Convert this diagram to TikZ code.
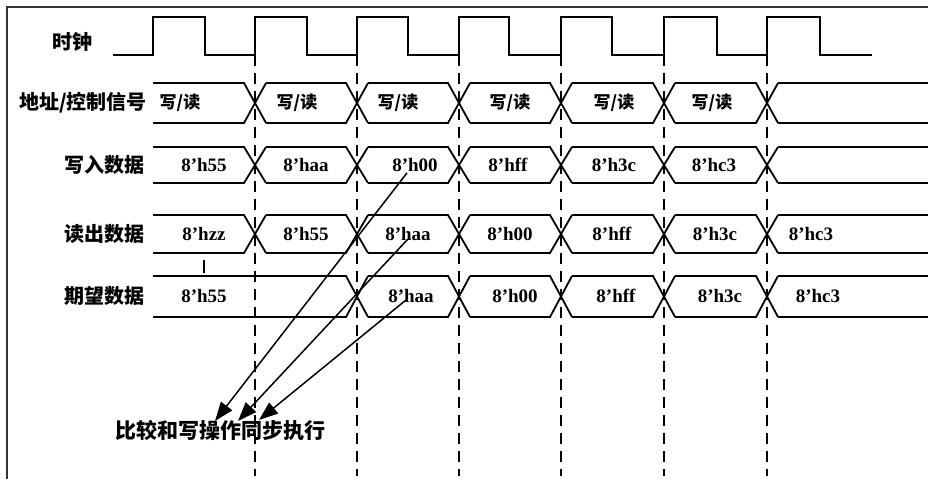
\documentclass[tikz,border=0pt]{standalone}
\usepackage{fontspec}
\setmainfont{Liberation Serif}
\newfontfamily\cjk{Noto Sans CJK SC}
\usetikzlibrary{arrows.meta}

\tikzset{
  sig/.style={line width=1.8pt},
  edge/.style={line width=2.2pt, dash pattern=on 11pt off 7pt},
  frame/.style={line width=1.4pt, black!80},
  val/.style={font=\fontsize{19}{22}\selectfont\bfseries, inner sep=1pt},
  rw/.style={font=\cjk\fontsize{17}{19}\selectfont\bfseries, inner sep=1pt},
  lbl/.style={font=\cjk\fontsize{20}{22}\selectfont\bfseries, inner sep=0pt},
  hint/.style={-{Triangle[length=19pt,width=14pt]}, line width=1.5pt}
}

\begin{document}
\begin{tikzpicture}[x=1pt,y=-1pt]
    \useasboundingbox (0,0) rectangle (928,479);
    \pgfmathsetmacro{\clkLow}{55}
    \pgfmathsetmacro{\clkHigh}{17}
    \pgfmathsetmacro{\halfX}{11}

    % Rahmen
    \draw[frame] (7,479) -- (7,7) -- (928,7);

    % Takt
    \draw[sig] (113,\clkLow)
      \foreach \r/\f in {153/205, 255/307, 357/408, 459/509, 561/612, 664/717, 767/820} {
        -- (\r,\clkLow) -- (\r,\clkHigh) -- (\f,\clkHigh) -- (\f,\clkLow)
      } -- (872,\clkLow);

    % Taktflanken
    \foreach \x in {255,357,459,561,664,767}
      \draw[edge] (\x,\clkLow) -- (\x,476);

    % Busse
    \foreach \yt/\yb/\ts in {83/123/{255,357,459,561,664,767},
                             147/183/{255,357,459,561,664,767},
                             215/253/{255,357,459,561,664,767},
                             276/317/{357,459,561,664,767}} {
      \foreach \t [remember=\t as \p (initially 142)] in \ts {
        \draw[sig] (\p+\halfX,\yt) -- (\t-\halfX,\yt) -- (\t+\halfX,\yb);
        \draw[sig] (\p+\halfX,\yb) -- (\t-\halfX,\yb) -- (\t+\halfX,\yt);
      }
      \draw[sig] (767+\halfX,\yt) -- (928,\yt);
      \draw[sig] (767+\halfX,\yb) -- (928,\yb);
    }

    % Signalnamen
    \node[lbl] (clkname) at (72,42) {时钟};
    \node[lbl,anchor=east] (adrname) at (147,103) {地址/控制信号};
    \node[lbl,anchor=east] (wrname) at (145,165) {写入数据};
    \node[lbl,anchor=east] (rdname) at (145,234) {读出数据};
    \node[lbl,anchor=east] (exname) at (145,296) {期望数据};

    % Werte
    \foreach \x [count=\i] in {180,297,398,510,614,712}
      \node[rw] (adr\i) at (\x,103) {写/读};
    \foreach \x/\v [count=\i] in {204/8'h55, 306/8'haa, 415/8'h00, 508/8'hff, 614/8'h3c, 714/8'hc3}
      \node[val] (wr\i) at (\x,165) {\v};
    \foreach \x/\v [count=\i] in {204/8'hzz, 306/8'h55, 408/8'haa, 510/8'h00, 612/8'hff, 715/8'h3c, 811/8'hc3}
      \node[val] (rd\i) at (\x,234) {\v};
    \foreach \x/\v [count=\i] in {204/8'h55, 411/8'haa, 515/8'h00, 616/8'hff, 720/8'h3c, 818/8'hc3}
      \node[val] (ex\i) at (\x,296) {\v};

    % Marke
    \draw[line width=1.5pt] (204,260) -- (204,273);

    % Vergleich
    \node[lbl,font=\cjk\fontsize{21}{23}\selectfont\bfseries] (cmpnote) at (220,430) {比较和写操作同步执行};
    \coordinate (tipA) at (215,421);
    \coordinate (tipB) at (238,421);
    \coordinate (tipC) at (259,420);
    \draw[hint] ([xshift=-8pt]wr3.south) -- (tipA);
    \draw[hint] ([yshift=-5pt]rd3.center) -- (tipB);
    \draw[hint] ([xshift=-5pt,yshift=-4pt]ex2.center) -- (tipC);
  \end{tikzpicture}
\end{document}
